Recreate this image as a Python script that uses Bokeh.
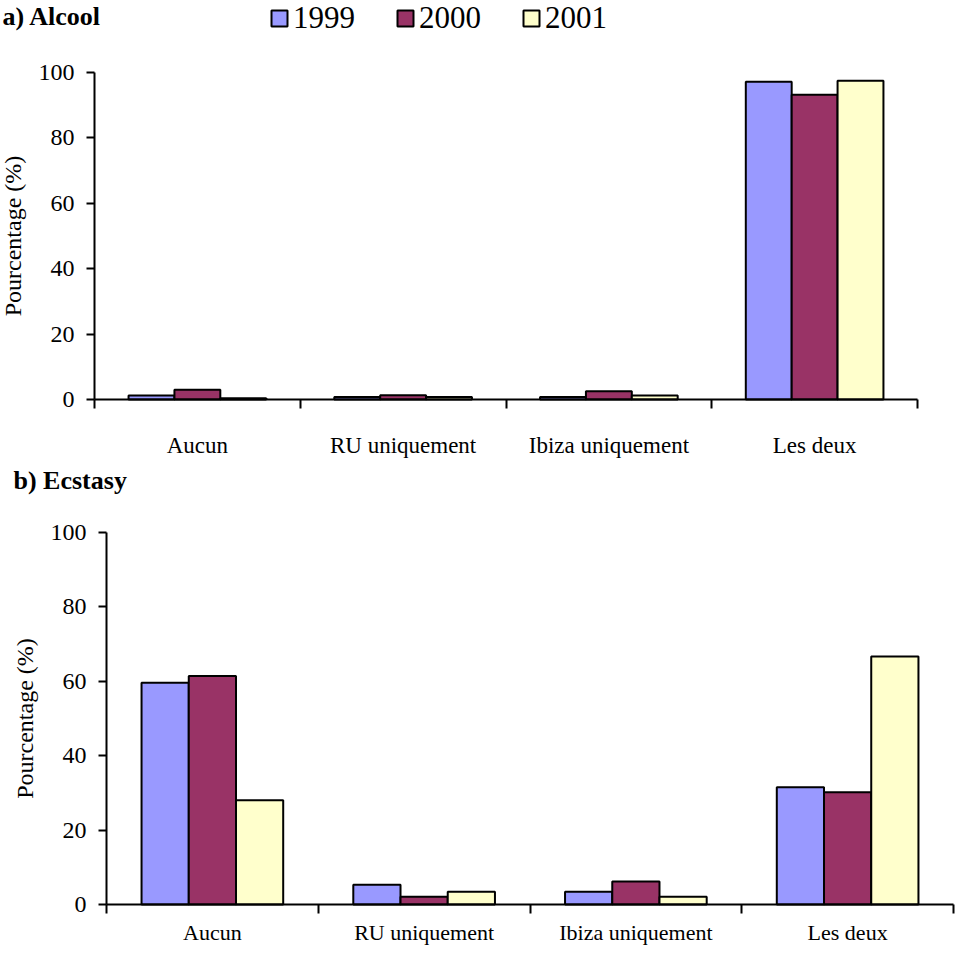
import numpy as np
from bokeh.plotting import figure
from bokeh.models import Range1d, FixedTicker, Legend, LegendItem, Label
from bokeh.layouts import column
from bokeh.embed import file_html
from bokeh.resources import INLINE

categories = ["Aucun", "RU uniquement", "Ibiza uniquement", "Les deux"]
years = ["1999", "2000", "2001"]
alcool_1999 = [1.2, 0.8, 0.8, 97.2]
alcool_2000 = [3.0, 1.3, 2.5, 93.2]
alcool_2001 = [0.4, 0.8, 1.2, 97.5]
ecstasy_1999 = [59.6, 5.3, 3.4, 31.5]
ecstasy_2000 = [61.4, 2.1, 6.2, 30.2]
ecstasy_2001 = [28.0, 3.4, 2.1, 66.7]
y_ticks = [0, 20, 40, 60, 80, 100]
colors = ["#9999FF", "#993366", "#FFFFCC"]

FONT = "Liberation Serif"
BAR_W = 0.223
Y_MAX = 100


def make_panel(title, series, canvas_left, canvas_top, W, H, x0, x4, y0, y100,
               title_px, label_standoff, label_size, legend_px=None):
    """Pixel arguments are page positions used only to lay out the panel."""
    n = len(categories)
    sx = (x4 - x0) / n
    sy = (y0 - y100) / Y_MAX
    x_rng = Range1d((canvas_left - x0) / sx, (canvas_left + W - x0) / sx)
    y_rng = Range1d((y0 - (canvas_top + H)) / sy, (y0 - canvas_top) / sy)
    p = figure(width=W, height=H, x_range=x_rng, y_range=y_rng,
               output_backend="svg", toolbar_location=None,
               min_border_left=0, min_border_right=0, min_border_top=0, min_border_bottom=0)
    p.outline_line_color = None
    p.xgrid.visible = False
    p.ygrid.visible = False

    idx = np.arange(n)
    renderers = []
    for j, vals in enumerate(series):
        xs = idx + 0.5 + (j - 1) * BAR_W
        r = p.vbar(x=xs, top=vals, width=BAR_W, bottom=0, fill_color=colors[j],
                   line_color="black", line_width=2)
        renderers.append(r)

    # y axis
    yax = p.yaxis[0]
    yax.fixed_location = 0
    yax.bounds = (0, Y_MAX)
    yax.ticker = FixedTicker(ticks=y_ticks, minor_ticks=[])
    yax.axis_line_color = "black"
    yax.axis_line_width = 2
    yax.major_tick_line_width = 2
    yax.major_tick_out = 8
    yax.major_tick_in = 0
    yax.minor_tick_line_color = None
    yax.major_label_text_font = FONT
    yax.major_label_text_font_size = "24px"
    yax.major_label_text_color = "black"
    yax.major_label_standoff = 12
    yax.axis_label = "Pourcentage (%)"
    yax.axis_label_text_font = FONT
    yax.axis_label_text_font_size = "24px"
    yax.axis_label_text_font_style = "normal"
    yax.axis_label_text_color = "black"
    yax.axis_label_standoff = 10

    # x axis: labels at category centres, ticks at boundaries
    xax = p.xaxis[0]
    xax.fixed_location = 0
    xax.bounds = (0, n)
    centres = [float(i) + 0.5 for i in range(n)]
    xax.ticker = FixedTicker(ticks=centres, minor_ticks=[float(i) for i in range(n + 1)])
    xax.major_label_overrides = {c: categories[i] for i, c in enumerate(centres)}
    xax.axis_line_color = "black"
    xax.axis_line_width = 2
    xax.major_tick_out = 0
    xax.major_tick_in = 0
    xax.major_tick_line_color = None
    xax.minor_tick_out = 9
    xax.minor_tick_in = 0
    xax.minor_tick_line_color = "black"
    xax.minor_tick_line_width = 2
    xax.major_label_text_font = FONT
    xax.major_label_text_font_size = label_size
    xax.major_label_text_color = "black"
    xax.major_label_standoff = label_standoff

    tx, ty = title_px
    p.add_layout(Label(x=(tx - x0) / sx, y=(y0 - ty) / sy, text=title,
                       text_font=FONT, text_font_size="26px", text_font_style="bold",
                       text_color="black", text_baseline="middle", text_align="left"))

    if legend_px is not None:
        lx, lb = legend_px
        items = [LegendItem(label=years[j], renderers=[renderers[j]]) for j in range(3)]
        leg = Legend(items=items, orientation="horizontal",
                     location=(lx - canvas_left, canvas_top + H - lb),
                     glyph_width=20, glyph_height=20, label_text_font=FONT,
                     label_text_font_size="31px", label_text_color="black",
                     label_standoff=4, spacing=40, padding=0, margin=0,
                     border_line_color=None, background_fill_alpha=0)
        p.add_layout(leg, "center")
    return p


top = make_panel("a) Alcool", [alcool_1999, alcool_2000, alcool_2001],
                 canvas_left=8, canvas_top=8, W=950, H=462,
                 x0=102, x4=925, y0=407, y100=80,
                 title_px=(10, 24), label_standoff=24, label_size="23px",
                 legend_px=(277, 44))
bottom = make_panel("b) Ecstasy", [ecstasy_1999, ecstasy_2000, ecstasy_2001],
                    canvas_left=8, canvas_top=470, W=958, H=487,
                    x0=114, x4=961, y0=912, y100=540,
                    title_px=(21, 488), label_standoff=6, label_size="22px")

layout = column(top, bottom, spacing=0)
open("out.html", "w").write(file_html(layout, INLINE))
